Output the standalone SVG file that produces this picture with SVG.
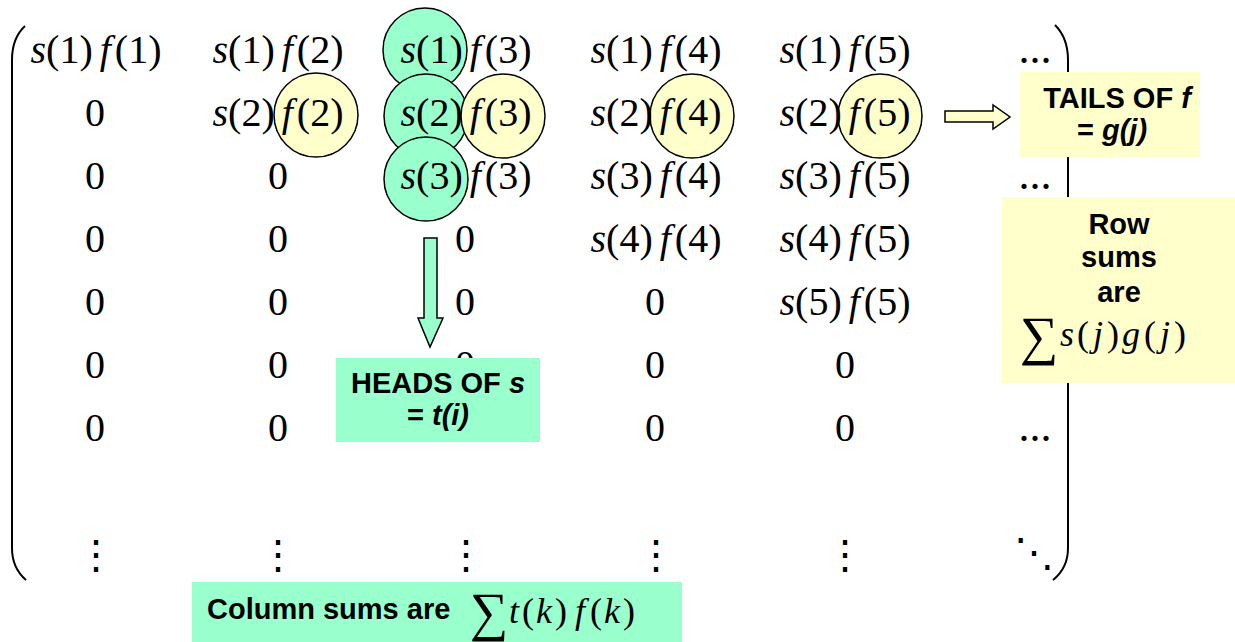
<svg xmlns="http://www.w3.org/2000/svg" width="1235" height="642" viewBox="0 0 1235 642">
<style>
.m{font-family:"Liberation Serif","Times New Roman",serif;font-size:40px;fill:#000}
.z{text-anchor:middle}
.i{font-style:italic}
.ell{font-family:"Liberation Serif","Times New Roman",serif;font-size:44px;text-anchor:middle}
.vd{font-family:"DejaVu Serif",serif;font-size:40px;text-anchor:middle}
.br{fill:none;stroke:#000;stroke-width:2}
.gc{fill:#99FFCC;stroke:#000;stroke-width:1.5}
.yc{fill:#FFFFCC;stroke:#000;stroke-width:1.5}
.gb{fill:#99FFCC}
.yb{fill:#FFFFCC}
.lb{font-family:"Liberation Sans",Arial,sans-serif;font-weight:bold;font-size:29px;fill:#000}
.fm{font-family:"Liberation Serif","Times New Roman",serif;font-size:36px;fill:#000}
.sg{font-family:"Liberation Serif","Times New Roman",serif;font-size:54px;fill:#000}
.ar{stroke:#000;stroke-width:1.5}
</style>

<g id="brackets">
<path class="br" d="M25 26 Q12 38 12 60 L12 548 Q12 568 26 580"/>
<path class="br" d="M1055 25 Q1068 38 1068 60 L1068 548 Q1068 568 1053 580"/>
</g>

<g id="heads-circles">
<circle class="gc" cx="425" cy="50" r="42"/>
<circle class="gc" cx="426" cy="116" r="42"/>
<circle class="gc" cx="426" cy="179" r="42"/>
</g>

<g id="tails-circles">
<circle class="yc" cx="316" cy="115" r="42"/>
<circle class="yc" cx="503" cy="116" r="42"/>
<circle class="yc" cx="692" cy="116" r="42"/>
<circle class="yc" cx="880" cy="116" r="42"/>
</g>

<g id="matrix" class="m">
<text class="z" x="96" y="63"><tspan class="i">s</tspan>(1)<tspan class="i" dx="7">f</tspan><tspan dx="4">(1)</tspan></text>
<text class="z" x="278" y="63"><tspan class="i">s</tspan>(1)<tspan class="i" dx="7">f</tspan><tspan dx="4">(2)</tspan></text>
<text class="z" x="466" y="63"><tspan class="i">s</tspan>(1)<tspan class="i" dx="7">f</tspan><tspan dx="4">(3)</tspan></text>
<text class="z" x="656" y="63"><tspan class="i">s</tspan>(1)<tspan class="i" dx="7">f</tspan><tspan dx="4">(4)</tspan></text>
<text class="z" x="845" y="63"><tspan class="i">s</tspan>(1)<tspan class="i" dx="7">f</tspan><tspan dx="4">(5)</tspan></text>
<text class="ell" x="1035" y="63">...</text>

<text class="z" x="95" y="126">0</text>
<text class="z" x="278" y="126"><tspan class="i">s</tspan>(2)<tspan class="i" dx="7">f</tspan><tspan dx="4">(2)</tspan></text>
<text class="z" x="466" y="126"><tspan class="i">s</tspan>(2)<tspan class="i" dx="7">f</tspan><tspan dx="4">(3)</tspan></text>
<text class="z" x="656" y="126"><tspan class="i">s</tspan>(2)<tspan class="i" dx="7">f</tspan><tspan dx="4">(4)</tspan></text>
<text class="z" x="845" y="126"><tspan class="i">s</tspan>(2)<tspan class="i" dx="7">f</tspan><tspan dx="4">(5)</tspan></text>

<text class="z" x="95" y="189">0</text>
<text class="z" x="278" y="189">0</text>
<text class="z" x="466" y="189"><tspan class="i">s</tspan>(3)<tspan class="i" dx="7">f</tspan><tspan dx="4">(3)</tspan></text>
<text class="z" x="656" y="189"><tspan class="i">s</tspan>(3)<tspan class="i" dx="7">f</tspan><tspan dx="4">(4)</tspan></text>
<text class="z" x="845" y="189"><tspan class="i">s</tspan>(3)<tspan class="i" dx="7">f</tspan><tspan dx="4">(5)</tspan></text>
<text class="ell" x="1035" y="189">...</text>

<text class="z" x="95" y="252">0</text>
<text class="z" x="278" y="252">0</text>
<text class="z" x="465" y="252">0</text>
<text class="z" x="656" y="252"><tspan class="i">s</tspan>(4)<tspan class="i" dx="7">f</tspan><tspan dx="4">(4)</tspan></text>
<text class="z" x="845" y="252"><tspan class="i">s</tspan>(4)<tspan class="i" dx="7">f</tspan><tspan dx="4">(5)</tspan></text>

<text class="z" x="95" y="315">0</text>
<text class="z" x="278" y="315">0</text>
<text class="z" x="465" y="315">0</text>
<text class="z" x="655" y="315">0</text>
<text class="z" x="845" y="315"><tspan class="i">s</tspan>(5)<tspan class="i" dx="7">f</tspan><tspan dx="4">(5)</tspan></text>

<text class="z" x="95" y="378">0</text>
<text class="z" x="278" y="378">0</text>
<text class="z" x="465" y="378">0</text>
<text class="z" x="655" y="378">0</text>
<text class="z" x="845" y="378">0</text>

<text class="z" x="95" y="441">0</text>
<text class="z" x="278" y="441">0</text>
<text class="z" x="655" y="441">0</text>
<text class="z" x="845" y="441">0</text>
<text class="ell" x="1035" y="441">...</text>

<text class="vd" x="96" y="568">⋮</text>
<text class="vd" x="278" y="568">⋮</text>
<text class="vd" x="466" y="568">⋮</text>
<text class="vd" x="656" y="568">⋮</text>
<text class="vd" x="845" y="568">⋮</text>
<text class="vd" x="1034" y="566">⋱</text>
</g>

<g id="connectors">
<polygon class="ar" fill="#99FFCC" points="424,238 437,238 437,318 443,318 430,347 418,318 424,318"/>
<polygon class="ar" fill="#FFFFCC" points="945,111 993,111 993,105 1010,117 993,129 993,122 945,122"/>
</g>

<g id="heads-box">
<rect class="gb" x="336" y="358" width="204" height="84"/>
<text class="lb" x="438" y="393" text-anchor="middle">HEADS OF <tspan font-style="italic">s</tspan></text>
<text class="lb" x="438" y="425" text-anchor="middle">= <tspan font-style="italic">t(i)</tspan></text>
</g>

<g id="tails-box">
<rect class="yb" x="1020" y="72" width="180" height="85"/>
<text class="lb" x="1117" y="108" text-anchor="middle">TAILS OF <tspan font-style="italic">f</tspan></text>
<text class="lb" x="1112" y="140" text-anchor="middle">= <tspan font-style="italic">g(j)</tspan></text>
</g>

<g id="rowsums-box">
<rect class="yb" x="1002" y="197" width="233" height="186"/>
<text class="lb" x="1119" y="234" text-anchor="middle">Row</text>
<text class="lb" x="1119" y="267" text-anchor="middle">sums</text>
<text class="lb" x="1119" y="302" text-anchor="middle">are</text>
<text class="sg" x="1020" y="354">∑</text>
<text class="fm" x="1060" y="346"><tspan class="i">s</tspan><tspan dx="3">(</tspan><tspan class="i" dx="4">j</tspan><tspan dx="4">)</tspan><tspan class="i" dx="3">g</tspan><tspan dx="4">(</tspan><tspan class="i" dx="4">j</tspan><tspan dx="4">)</tspan></text>
</g>

<g id="colsums-box">
<rect class="gb" x="192" y="582" width="490" height="60"/>
<text class="lb" x="207" y="619">Column sums are</text>
<text class="sg" x="470" y="630">∑</text>
<text class="fm" x="509" y="623"><tspan class="i">t</tspan><tspan dx="3">(</tspan><tspan class="i" dx="2">k</tspan><tspan dx="3">)</tspan><tspan class="i" dx="8">f</tspan><tspan dx="5">(</tspan><tspan class="i" dx="2">k</tspan><tspan dx="3">)</tspan></text>
</g>
</svg>
